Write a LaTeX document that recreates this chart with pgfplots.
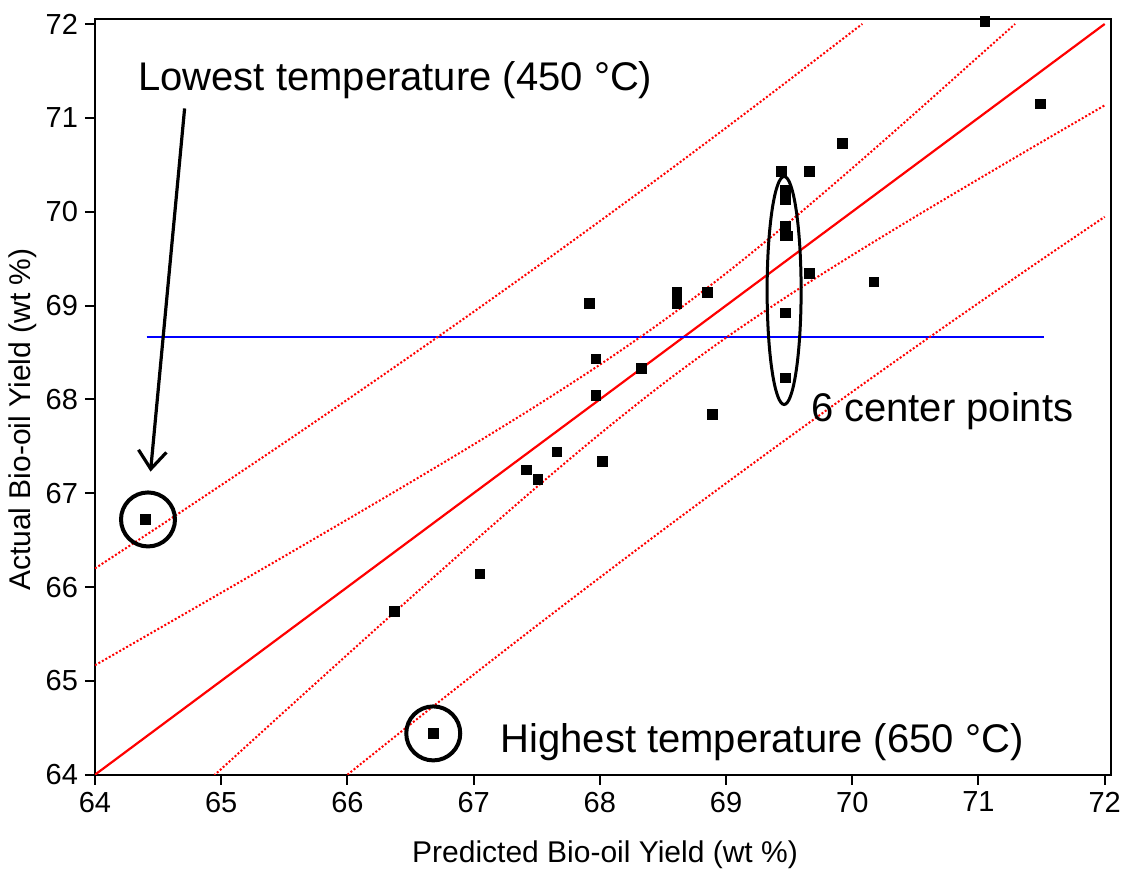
\documentclass[border=0pt]{standalone}
\usepackage{fontspec}
\setmainfont{Liberation Sans}
\usepackage{pgfplots}
\pgfplotsset{compat=1.18}
\usetikzlibrary{arrows.meta}
\begin{document}
\begin{tikzpicture}
\path[use as bounding box] (0,0) rectangle (561pt,436pt);
\begin{axis}[
  at={(47.5pt,48.65pt)}, anchor=south west,
  scale only axis, width=508pt, height=377.7pt,
  xmin=64, xmax=72.05, ymin=64, ymax=72.05,
  xtick={64,65,66,67,68,69,70,71,72}, ytick={64,65,66,67,68,69,70,71,72},
  tick align=outside, tick pos=left,
  major tick length=5pt,
  axis line style={line width=1pt},
  every tick/.style={black, line width=1pt},
  ticklabel style={font=\fontsize{14.5}{16}\selectfont},
  /pgf/number format/assume math mode=true,
  xlabel={Predicted Bio-oil Yield (wt \%)},
  ylabel={Actual Bio-oil Yield (wt \%)},
  label style={font=\fontsize{15}{17}\selectfont},
  xlabel style={at={(axis description cs:0.502,-0.1063)}, anchor=center},
  ylabel style={at={(axis description cs:-0.0709,0.47)}, anchor=center},
]
% fit line
\addplot[red, line width=1.1pt] coordinates {(64,64) (72,72)};
% mean line
\addplot[blue, line width=1pt] coordinates {(64.41,68.66) (71.52,68.66)};
% upper prediction band
\addplot[red, densely dotted, line width=1pt, smooth] coordinates {
(64,66.198) (64.5,66.639) (65,67.086) (65.5,67.538) (66,67.997) (66.5,68.462)
(67,68.933) (67.5,69.412) (68,69.899) (68.5,70.392) (69,70.894) (69.5,71.403)
(70,71.919) (70.08,72.0)};
% upper confidence band
\addplot[red, densely dotted, line width=1pt, smooth] coordinates {
(64,65.166) (64.5,65.552) (65,65.939) (65.5,66.328) (66,66.720) (66.5,67.116)
(67,67.519) (67.5,67.934) (68,68.369) (68.5,68.835) (69,69.343) (69.5,69.889)
(70,70.463) (70.5,71.053) (71,71.653) (71.29,72.0)};
% lower confidence band
\addplot[red, densely dotted, line width=1pt, smooth] coordinates {
(64.95,64.0) (65,64.061) (65.5,64.672) (66,65.280) (66.5,65.884) (67,66.481)
(67.5,67.066) (68,67.631) (68.5,68.165) (69,68.657) (69.5,69.111) (70,69.537)
(70.5,69.947) (71,70.347) (71.5,70.742) (72,71.133)};
% lower prediction band
\addplot[red, densely dotted, line width=1pt, smooth] coordinates {
(66.0,64.0) (66.5,64.538) (67,65.067) (67.5,65.588) (68,66.101) (68.5,66.608)
(69,67.106) (69.5,67.597) (70,68.081) (70.5,68.557) (71,69.026) (71.5,69.489)
(72,69.945)};
% data points
\addplot[only marks, mark=square*, mark size=2.4pt, black] coordinates {
(67.915,69.02) (68.61,69.14) (68.61,69.02) (68.85,69.14) (67.97,68.43)
(68.33,68.33) (67.97,68.04) (68.89,67.84) (67.66,67.44) (68.02,67.34)
(67.42,67.25) (67.51,67.15) (67.05,66.14) (66.37,65.74) (69.92,70.73)
(69.44,70.43) (69.66,70.43) (69.47,70.23) (69.47,70.13) (69.47,69.84)
(69.47,69.74) (69.49,69.74) (69.66,69.34) (70.17,69.25) (69.47,68.92)
(69.47,68.23) (71.05,72.03) (71.49,71.15) (64.40,66.72) (66.68,64.44)};
% annotations
\draw[line width=2pt] (axis cs:64.42,66.72) circle[radius=13.5pt];
\draw[line width=2pt] (axis cs:66.68,64.44) circle[radius=13.5pt];
\draw[line width=1.5pt] (axis cs:69.46,69.16) ellipse[x radius=8.5pt, y radius=57pt];
\draw[line width=1.6pt, -{Straight Barb[length=9pt,width=14pt]}] (axis cs:64.71,71.10) -- (axis cs:64.44,67.23);
\node[anchor=base west, inner sep=0pt, font=\fontsize{20}{24}\selectfont] at (axis cs:64.34,71.29) {Lowest temperature (450 °C)};
\node[anchor=base west, inner sep=0pt, font=\fontsize{20}{24}\selectfont] at (axis cs:67.21,64.24) {Highest temperature (650 °C)};
\node[anchor=base west, inner sep=0pt, font=\fontsize{20}{24}\selectfont] at (axis cs:69.67,67.76) {6 center points};
\end{axis}
\end{tikzpicture}
\end{document}
